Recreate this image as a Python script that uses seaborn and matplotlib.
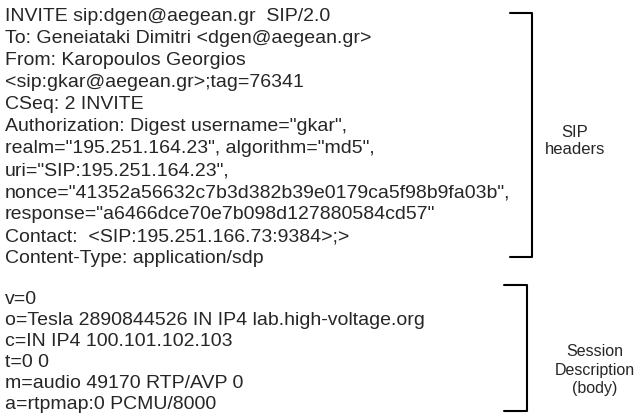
import matplotlib.pyplot as plt
import seaborn as sns

sns.set_style("white")
plt.rcParams['font.family'] = ['Liberation Sans', 'DejaVu Sans']

sip_lines = [
    'INVITE sip:dgen@aegean.gr  SIP/2.0',
    'To: Geneiataki Dimitri <dgen@aegean.gr>',
    'From: Karopoulos Georgios',
    '<sip:gkar@aegean.gr>;tag=76341',
    'CSeq: 2 INVITE',
    'Authorization: Digest username="gkar",',
    'realm="195.251.164.23", algorithm="md5",',
    'uri="SIP:195.251.164.23",',
    'nonce="41352a56632c7b3d382b39e0179ca5f98b9fa03b",',
    'response="a6466dce70e7b098d127880584cd57"',
    'Contact:  <SIP:195.251.166.73:9384>;>',
    'Content-Type: application/sdp',
]
sdp_lines = [
    'v=0',
    'o=Tesla 2890844526 IN IP4 lab.high-voltage.org',
    'c=IN IP4 100.101.102.103',
    't=0 0',
    'm=audio 49170 RTP/AVP 0',
    'a=rtpmap:0 PCMU/8000',
]
sip_label = 'SIP\nheaders'
sdp_label = 'Session\nDescription\n(body)'

fig = plt.figure(figsize=(6.37, 4.16), dpi=100)
ax = fig.add_axes([0, 0, 1, 1])
ax.set_xlim(0, 637)
ax.set_ylim(416, 0)
ax.axis('off')

fs = 14
for i, line in enumerate(sip_lines):
    ax.text(5, 21 + i * 22, line, fontsize=fs, va='baseline', ha='left')
for i, line in enumerate(sdp_lines):
    ax.text(5, 304 + i * 21, line, fontsize=fs, va='baseline', ha='left')

# brackets
ax.plot([510, 532, 532, 510], [13, 13, 257, 257], color='black', lw=1.5)
ax.plot([504, 527, 527, 504], [285, 285, 411, 411], color='black', lw=1.5)

ax.text(575, 141, sip_label, fontsize=12, ha='center', va='center',
        linespacing=1.2)
ax.text(595, 370, sdp_label, fontsize=11.5, ha='center', va='center',
        linespacing=1.25)

fig.savefig('out.png', dpi=100)
